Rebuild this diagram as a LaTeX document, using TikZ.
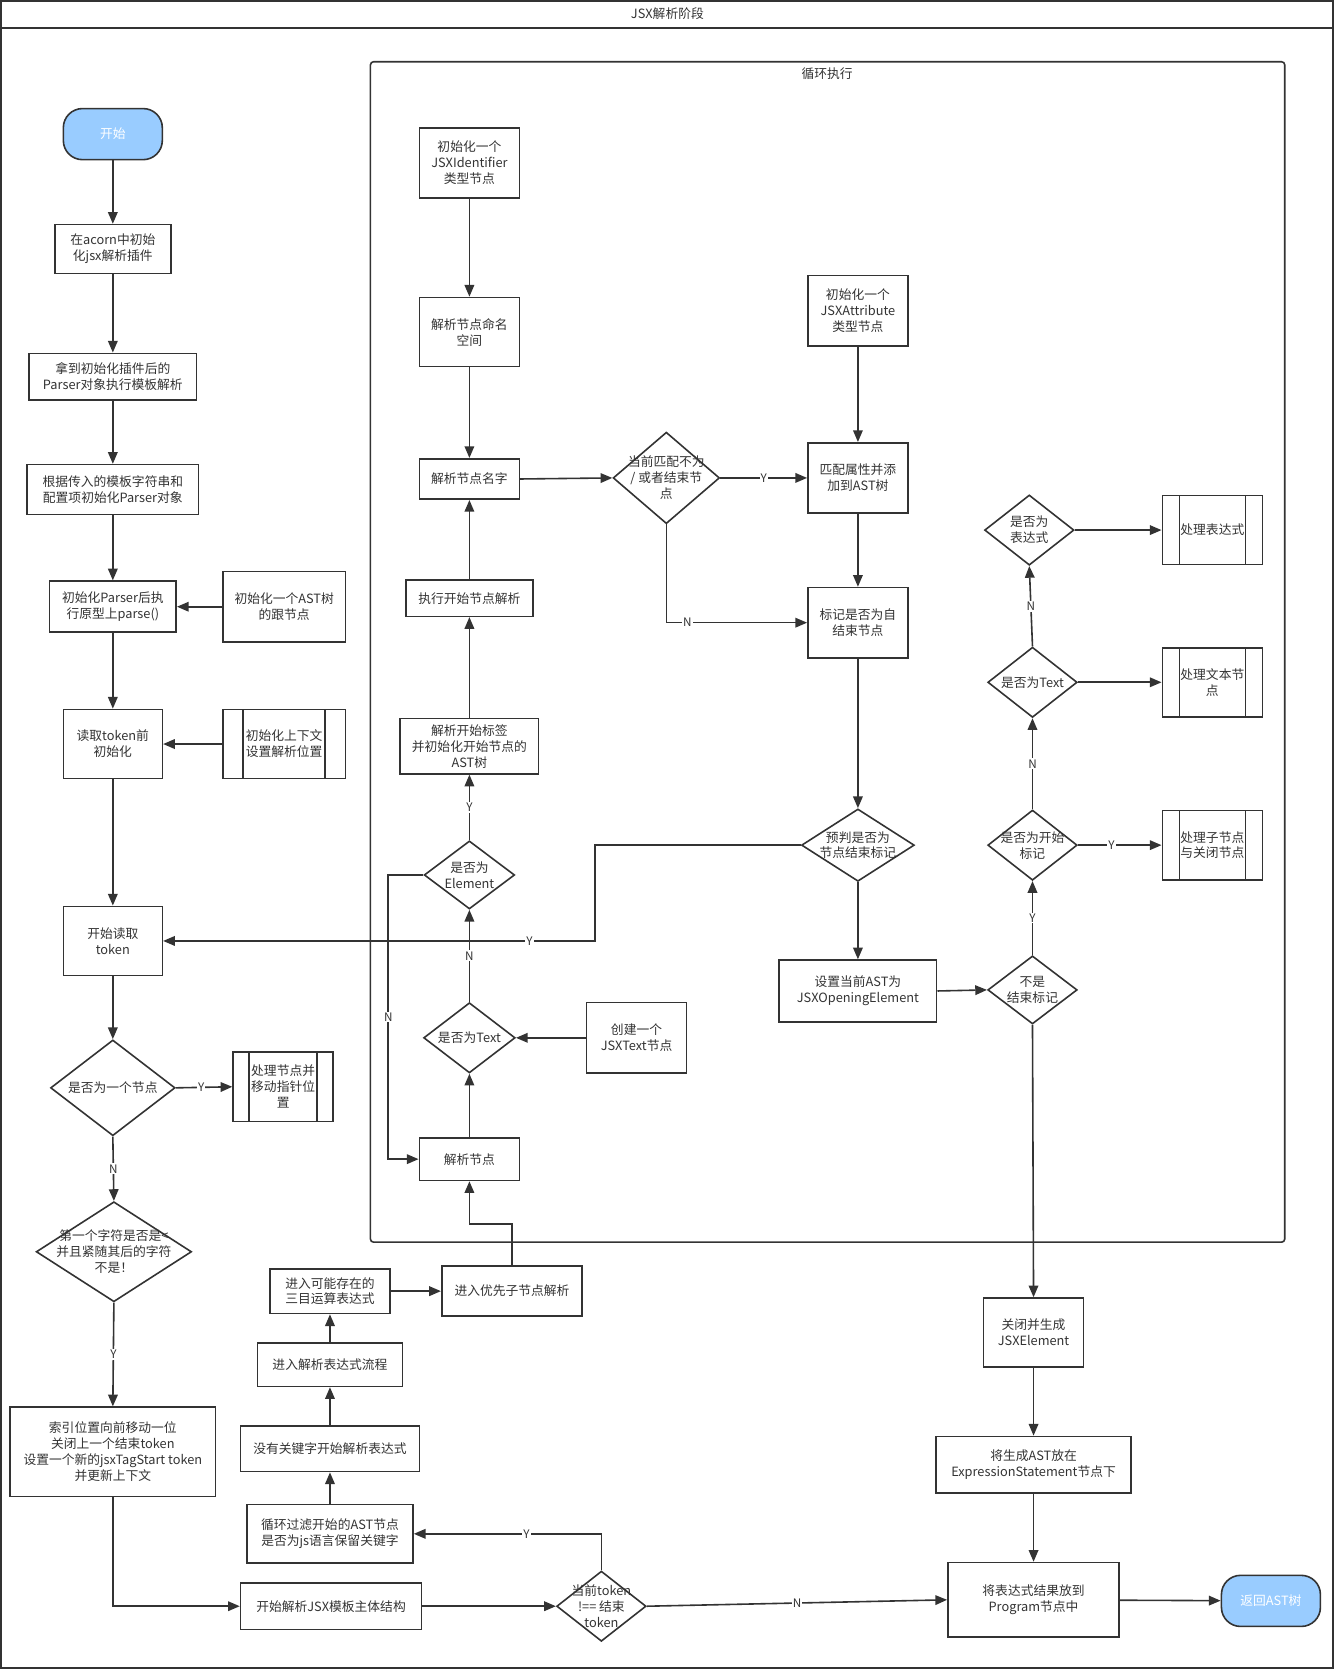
\documentclass[tikz,border=0pt]{standalone}
\usepackage{fontspec}
\newfontfamily\cjk{Noto Sans CJK SC}
\usetikzlibrary{arrows.meta,shapes.geometric}
\definecolor{ln}{HTML}{333333}
\definecolor{tx}{HTML}{333333}
\definecolor{startblue}{HTML}{99CCFF}
\begin{document}
\begin{tikzpicture}[x=1pt,y=-1pt,
  every node/.style={font=\cjk\fontsize{12}{15}\selectfont, text=tx},
  box/.style={draw=ln, line width=1.5pt, rectangle, align=center, inner sep=1pt},
  sub/.style={box, path picture={\draw[ln,line width=1.5pt] ([xshift=#1]path picture bounding box.north west) -- ([xshift=#1]path picture bounding box.south west) ([xshift=-#1]path picture bounding box.north east) -- ([xshift=-#1]path picture bounding box.south east);}},
  sub/.default=16pt,
  term/.style={draw=ln, line width=1.5pt, fill=startblue, rounded corners=18pt, text=white, minimum width=93pt, minimum height=48pt},
  dia/.style={draw=ln, line width=1.5pt, diamond, inner sep=0pt},
  dtext/.style={align=center, inner sep=0pt},
  arr/.style={draw=ln, line width=1.5pt, -{Triangle[length=11pt,width=9pt]}},
  lin/.style={draw=ln, line width=1.5pt},
  lab/.style={fill=white, inner sep=1pt, font=\cjk\fontsize{11}{12}\selectfont},
]
\useasboundingbox (0,0) rectangle (1253,1568);
% frames
\draw[ln, line width=1.8pt] (1,1) rectangle (1252,1567);
\draw[ln, line width=1.8pt] (1,26) -- (1252,26);
\node (title) at (627,13) {JSX解析阶段};
\draw[ln, line width=1.5pt, rounded corners=3pt] (348,58) rectangle (1207,1167);
\node (looptitle) at (777,69) {循环执行};

% left column
\node[term] (start) at (106,126) {开始};
\node[box, minimum width=109pt, minimum height=46pt] (n1) at (106,234) {在acorn中初始\\化jsx解析插件};
\node[box, minimum width=157pt, minimum height=44pt] (n2) at (106,354) {拿到初始化插件后的\\Parser对象执行模板解析};
\node[box, minimum width=161pt, minimum height=47pt] (n3) at (106,460) {根据传入的模板字符串和\\配置项初始化Parser对象};
\node[box, minimum width=119pt, minimum height=48pt] (n4) at (106,570) {初始化Parser后执\\行原型上parse()};
\node[box, minimum width=115pt, minimum height=66pt] (r4) at (267,570) {初始化一个AST树\\的跟节点};
\node[box, minimum width=93pt, minimum height=65pt] (n5) at (106,699) {读取token前\\初始化};
\node[sub=19pt, minimum width=115pt, minimum height=65pt] (r5) at (267,699) {初始化上下文\\设置解析位置};
\node[box, minimum width=93pt, minimum height=65pt] (n6) at (106,884) {开始读取\\token};
\node[dia, minimum width=117pt, minimum height=90pt, label={[dtext]center:是否为一个节点}] (d1) at (106,1022) {};
\node[sub=15pt, minimum width=94pt, minimum height=65pt] (s1) at (266,1021) {处理节点并\\移动指针位\\置};
\node[dia, minimum width=146pt, minimum height=94pt, label={[dtext]center:{第一个字符是否是<\\并且紧随其后的字符\\不是！}}] (d2) at (107,1176) {};
\node[box, minimum width=193pt, minimum height=84pt] (n7) at (106,1364) {索引位置向前移动一位\\关闭上一个结束token\\设置一个新的jsxTagStart token\\并更新上下文};
\node[box, minimum width=170pt, minimum height=44pt] (n8) at (311,1509) {开始解析JSX模板主体结构};
\node[dia, minimum width=84pt, minimum height=66pt, label={[dtext]center:{当前token\\!== 结束\\token}}] (d3) at (565,1509) {};
\node[box, minimum width=156pt, minimum height=55pt] (n9) at (310,1441) {循环过滤开始的AST节点\\是否为js语言保留关键字};
\node[box, minimum width=168pt, minimum height=43pt] (n10) at (310,1361) {没有关键字开始解析表达式};
\node[box, minimum width=136pt, minimum height=41pt] (n11) at (310,1282) {进入解析表达式流程};
\node[box, minimum width=113pt, minimum height=42pt] (n12) at (310,1213) {进入可能存在的\\三目运算表达式};
\node[box, minimum width=132pt, minimum height=47pt] (n13) at (481,1213) {进入优先子节点解析};

% loop column L
\node[box, minimum width=94pt, minimum height=66pt] (L1) at (441,153) {初始化一个\\JSXIdentifier\\类型节点};
\node[box, minimum width=94pt, minimum height=65pt] (L2) at (441,312) {解析节点命名\\空间};
\node[box, minimum width=94pt, minimum height=38pt] (L3) at (441,450) {解析节点名字};
\node[box, minimum width=119pt, minimum height=34pt] (L4) at (441,562) {执行开始节点解析};
\node[box, minimum width=130pt, minimum height=52pt] (L5) at (441,701) {解析开始标签\\并初始化开始节点的\\AST树};
\node[dia, minimum width=85pt, minimum height=64pt, label={[dtext]center:{是否为\\Element}}] (Ld1) at (441,822) {};
\node[dia, minimum width=86pt, minimum height=66pt, label={[dtext]center:是否为Text}] (Ld2) at (441,975) {};
\node[box, minimum width=94pt, minimum height=66pt] (L6) at (598,975) {创建一个\\JSXText节点};
\node[box, minimum width=94pt, minimum height=40pt] (L7) at (441,1089) {解析节点};

% loop column M
\node[dia, minimum width=100pt, minimum height=86pt, label={[dtext]center:{当前匹配不为\\/ 或者结束节\\点}}] (Md1) at (626,449) {};
\node[box, minimum width=94pt, minimum height=66pt] (M1) at (806,292) {初始化一个\\JSXAttribute\\类型节点};
\node[box, minimum width=94pt, minimum height=66pt] (M2) at (806,449) {匹配属性并添\\加到AST树};
\node[box, minimum width=94pt, minimum height=66pt] (M3) at (806,585) {标记是否为自\\结束节点};
\node[dia, minimum width=106pt, minimum height=68pt, label={[dtext]center:{预判是否为\\节点结束标记}}] (Md2) at (806,794) {};
\node[box, minimum width=148pt, minimum height=58pt] (M4) at (806,931) {设置当前AST为\\JSXOpeningElement};

% right column
\node[dia, minimum width=84pt, minimum height=64pt, label={[dtext]center:{不是\\结束标记}}] (Rd0) at (970,930) {};
\node[dia, minimum width=84pt, minimum height=66pt, label={[dtext]center:{是否为开始\\标记}}] (Rd1) at (970,794) {};
\node[dia, minimum width=84pt, minimum height=66pt, label={[dtext]center:是否为Text}] (Rd2) at (970,641) {};
\node[dia, minimum width=84pt, minimum height=66pt, label={[dtext]center:{是否为\\表达式}}] (Rd3) at (967,498) {};
\node[sub, minimum width=94pt, minimum height=65pt] (S3) at (1139,498) {处理表达式};
\node[sub, minimum width=94pt, minimum height=65pt] (S2) at (1139,641) {处理文本节\\点};
\node[sub, minimum width=94pt, minimum height=65pt] (S1) at (1139,794) {处理子节点\\与关闭节点};
\node[box, minimum width=94pt, minimum height=65pt] (R1) at (971,1252) {关闭并生成\\JSXElement};
\node[box, minimum width=183pt, minimum height=53pt] (R2) at (971,1376) {将生成AST放在\\ExpressionStatement节点下};
\node[box, minimum width=161pt, minimum height=70pt] (R3) at (971,1503) {将表达式结果放到\\Program节点中};
\node[term] (end) at (1194,1504) {返回AST树};

% edges left
\draw[arr] (start) -- (n1);
\draw[arr] (n1) -- (n2);
\draw[arr] (n2) -- (n3);
\draw[arr] (n3) -- (n4);
\draw[arr] (r4) -- (n4);
\draw[arr] (n4) -- (n5);
\draw[arr] (r5) -- (n5);
\draw[arr] (n5) -- (n6);
\draw[arr] (n6) -- (d1.north);
\draw[arr] (d1.east) -- (s1.west) node[lab, pos=0.45] {Y};
\draw[arr] (d1.south) -- (d2.north) node[lab, pos=0.5] {N};
\draw[arr] (d2.south) -- (n7.north) node[lab, pos=0.5] {Y};
\draw[arr] (n7.south) |- (n8.west);
\draw[arr] (n8.east) -- (d3.west);
\draw[arr] (d3.north) |- (n9.east) node[lab, pos=0.7] {Y};
\draw[arr] (d3.east) -- (R3.west) node[lab, pos=0.5] {N};
\draw[arr] (n9) -- (n10);
\draw[arr] (n10) -- (n11);
\draw[arr] (n11) -- (n12);
\draw[arr] (n12) -- (n13);
\draw[arr] (n13.north) -- ++(0,-39) -| (L7.south);

% edges loop L
\draw[arr] (L1) -- (L2);
\draw[arr] (L2) -- (L3);
\draw[arr] (L7) -- (Ld2.south);
\draw[arr] (L6) -- (Ld2.east);
\draw[arr] (Ld2.north) -- (Ld1.south) node[lab, pos=0.5] {N};
\draw[arr] (Ld1.north) -- (L5.south) node[lab, pos=0.5] {Y};
\draw[arr] (Ld1.west) -- ++(-33,0) |- (L7.west) node[lab, pos=0.25] {N};
\draw[arr] (L5) -- (L4);
\draw[arr] (L4) -- (L3);
\draw[arr] (L3.east) -- (Md1.west);

% edges loop M
\draw[arr] (Md1.east) -- (M2.west) node[lab, pos=0.5] {Y};
\draw[arr] (Md1.south) |- (M3.west) node[lab, pos=0.575] {N};
\draw[arr] (M1) -- (M2);
\draw[arr] (M2) -- (M3);
\draw[arr] (M3.south) -- (Md2.north);
\draw[arr] (Md2.west) -- ++(-193,0) |- (n6.east) node[lab, pos=0.576] {Y};
\draw[arr] (Md2.south) -- (M4.north);
\draw[arr] (M4.east) -- (Rd0.west);

% edges right
\draw[arr] (Rd0.north) -- (Rd1.south) node[lab, pos=0.5] {Y};
\draw[arr] (Rd1.east) -- (S1.west) node[lab, pos=0.4] {Y};
\draw[arr] (Rd1.north) -- (Rd2.south) node[lab, pos=0.5] {N};
\draw[arr] (Rd2.east) -- (S2.west);
\draw[arr] (Rd2.north) -- (Rd3.south) node[lab, pos=0.5] {N};
\draw[arr] (Rd3.east) -- (S3.west);
\draw[arr] (Rd0.south) -- (R1.north);
\draw[arr] (R1) -- (R2);
\draw[arr] (R2) -- (R3);
\draw[arr] (R3) -- (end);
\end{tikzpicture}
\end{document}
